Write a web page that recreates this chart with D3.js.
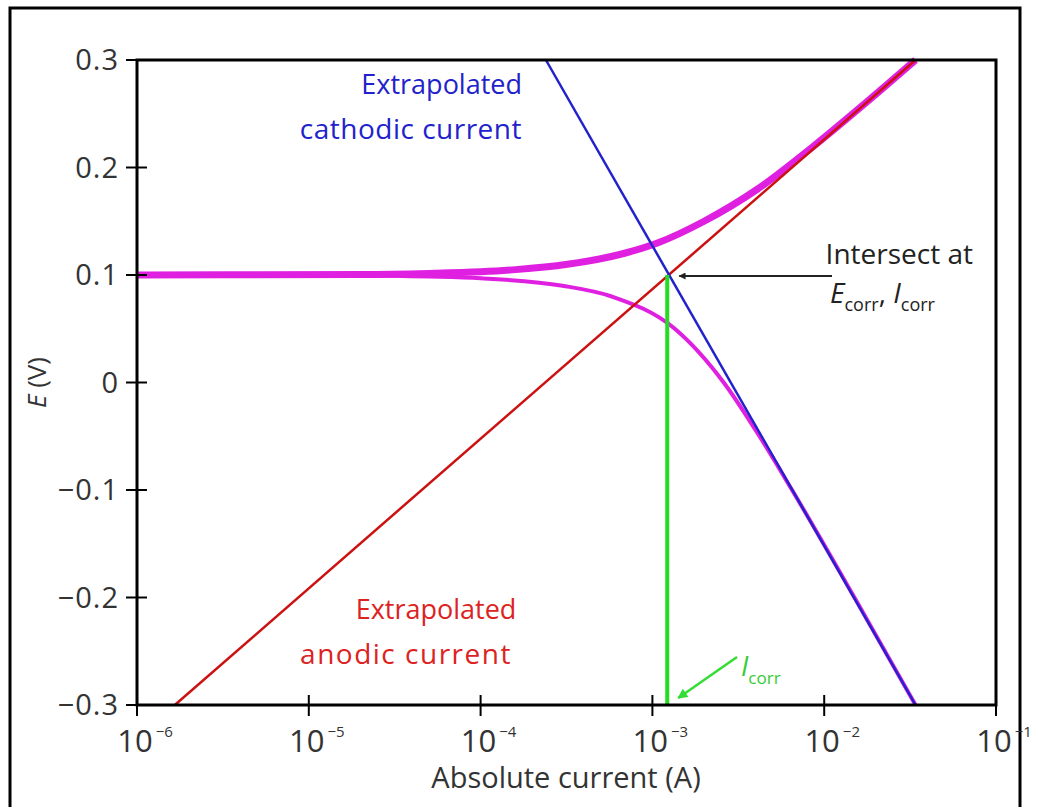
<!DOCTYPE html>
<html>
<head>
<meta charset="utf-8">
<script src="https://cdn.jsdelivr.net/npm/d3@7"></script>
<style>
  body { margin: 0; background: #fff; }
  svg text { font-family: "Open Sans", "Noto Sans", sans-serif; }
</style>
</head>
<body>
<div id="chart"></div>
<script>
// values: [current (A), E (V)]
var anodicLine = [[1.66e-6, -0.3], [3.4e-2, 0.3]];
var cathodicLine = [[2.4e-4, 0.3], [3.4e-2, -0.3]];
var upperBranch = [[1e-6, 0.1], [2e-5, 0.1005], [5e-5, 0.1015], [1e-4, 0.103], [1.6e-4, 0.105],
    [3.2e-4, 0.11], [6.8e-4, 0.12], [1.08e-3, 0.13], [2.0e-3, 0.15], [4.1e-3, 0.18],
    [8.7e-3, 0.22], [1.74e-2, 0.26], [3.4e-2, 0.3]];
var lowerBranch = [[1e-6, 0.1], [2e-5, 0.0995], [5e-5, 0.0985], [1e-4, 0.097], [3e-4, 0.09],
    [5.8e-4, 0.08], [1.35e-3, 0.05], [2.6e-3, 0.0], [4.2e-3, -0.05], [6.5e-3, -0.1],
    [1.5e-2, -0.2], [3.4e-2, -0.3]];
var iCorr = 1.22e-3;
var eCorr = 0.1;
var xTicks = [1e-6, 1e-5, 1e-4, 1e-3, 1e-2, 1e-1];
var xTickExp = ["−6", "−5", "−4", "−3", "−2", "−1"];
var yTicks = [0.3, 0.2, 0.1, 0, -0.1, -0.2, -0.3];
var yTickLabels = ["0.3", "0.2", "0.1", "0", "−0.1", "−0.2", "−0.3"];

var width = 1043, height = 807;
var plot = {left: 137, right: 996, top: 60, bottom: 705};

var svg = d3.select("#chart").append("svg")
    .attr("width", width)
    .attr("height", height);

//outer frame
svg.append("rect")
    .attr("x", 10).attr("y", 8)
    .attr("width", 1010).attr("height", 830)
    .attr("fill", "none")
    .attr("stroke", "#000")
    .attr("stroke-width", 3);

var x = d3.scaleLog().domain([1e-6, 1e-1]).range([plot.left, plot.right]);
var y = d3.scaleLinear().domain([-0.3, 0.3]).range([plot.bottom, plot.top]);

var line = d3.line().x(d => x(d[0])).y(d => y(d[1]));
var curve = d3.line().x(d => x(d[0])).y(d => y(d[1])).curve(d3.curveMonotoneX);

var g = svg.append("g");

//pink measured curve
g.append("path").datum(lowerBranch)
    .attr("d", curve).attr("fill", "none")
    .attr("stroke", "#e020e0").attr("stroke-width", 4);
g.append("path").datum(upperBranch)
    .attr("d", curve).attr("fill", "none")
    .attr("stroke", "#e020e0").attr("stroke-width", 7);

//extrapolated lines
g.append("path").datum(anodicLine)
    .attr("d", line).attr("fill", "none")
    .attr("stroke", "#cc1111").attr("stroke-width", 2.5);
g.append("path").datum(cathodicLine)
    .attr("d", line).attr("fill", "none")
    .attr("stroke", "#2222cc").attr("stroke-width", 2.5);

//Icorr vertical
g.append("line")
    .attr("x1", x(iCorr)).attr("x2", x(iCorr))
    .attr("y1", y(-0.3)).attr("y2", y(eCorr))
    .attr("stroke", "#22dd22").attr("stroke-width", 4);

//plot box
svg.append("rect")
    .attr("x", plot.left).attr("y", plot.top)
    .attr("width", plot.right - plot.left).attr("height", plot.bottom - plot.top)
    .attr("fill", "none").attr("stroke", "#000").attr("stroke-width", 3);

//y ticks
yTicks.forEach((t, i) => {
    svg.append("line")
        .attr("x1", plot.left - 11).attr("x2", plot.left + 10)
        .attr("y1", y(t)).attr("y2", y(t))
        .attr("stroke", "#000").attr("stroke-width", 2);
    svg.append("text")
        .attr("x", 119).attr("y", y(t) + 10)
        .attr("text-anchor", "end")
        .attr("font-size", 29)
        .attr("letter-spacing", 1)
        .attr("fill", "#333")
        .text(yTickLabels[i]);
});

//x ticks
xTicks.forEach((t, i) => {
    svg.append("line")
        .attr("x1", x(t)).attr("x2", x(t))
        .attr("y1", plot.bottom - 10).attr("y2", plot.bottom + 11)
        .attr("stroke", "#000").attr("stroke-width", 2);
    var label = svg.append("text")
        .attr("x", x(t) + 8).attr("y", 752)
        .attr("text-anchor", "middle")
        .attr("font-size", 31)
        .attr("fill", "#333");
    label.append("tspan").text("10");
    label.append("tspan").attr("font-size", 15).attr("dy", -15).attr("dx", 3).text(xTickExp[i]);
});

//axis titles
svg.append("text")
    .attr("x", 566).attr("y", 788)
    .attr("text-anchor", "middle")
    .attr("font-size", 29)
    .attr("fill", "#333")
    .text("Absolute current (A)");

var yTitle = svg.append("text")
    .attr("transform", "translate(46," + y(0) + ") rotate(-90)")
    .attr("text-anchor", "middle")
    .attr("font-size", 26)
    .attr("fill", "#333");
yTitle.append("tspan").attr("font-style", "italic").text("E");
yTitle.append("tspan").text(" (V)");

//annotations
svg.append("text").attr("x", 522).attr("y", 94)
    .attr("text-anchor", "end").attr("font-size", 27).attr("fill", "#2222cc")
    .text("Extrapolated");
svg.append("text").attr("x", 522).attr("y", 139)
    .attr("text-anchor", "end").attr("font-size", 28).attr("letter-spacing", 0.5).attr("fill", "#2222cc")
    .text("cathodic current");

svg.append("text").attr("x", 436).attr("y", 619)
    .attr("text-anchor", "middle").attr("font-size", 27).attr("fill", "#dd2222")
    .text("Extrapolated");
svg.append("text").attr("x", 406).attr("y", 664)
    .attr("text-anchor", "middle").attr("font-size", 28).attr("letter-spacing", 1.5).attr("fill", "#dd2222")
    .text("anodic current");

svg.append("text").attr("x", 973).attr("y", 264)
    .attr("text-anchor", "end").attr("font-size", 28).attr("fill", "#222")
    .text("Intersect at");
var ecorrText = svg.append("text").attr("x", 830).attr("y", 303)
    .attr("font-size", 28).attr("fill", "#222");
ecorrText.append("tspan").attr("font-style", "italic").text("E");
ecorrText.append("tspan").attr("font-size", 18).attr("dy", 8).text("corr");
ecorrText.append("tspan").attr("dy", -8).text(", ");
ecorrText.append("tspan").attr("font-style", "italic").text("I");
ecorrText.append("tspan").attr("font-size", 18).attr("dy", 8).text("corr");

//black arrow to intersection
var defs = svg.append("defs");
defs.append("marker").attr("id", "arrowBlack")
    .attr("viewBox", "0 0 10 10").attr("refX", 9).attr("refY", 5)
    .attr("markerWidth", 9).attr("markerHeight", 7).attr("orient", "auto")
    .attr("markerUnits", "userSpaceOnUse")
    .append("path").attr("d", "M0,0L10,5L0,10Z").attr("fill", "#222");
defs.append("marker").attr("id", "arrowGreen")
    .attr("viewBox", "0 0 10 10").attr("refX", 9).attr("refY", 5)
    .attr("markerWidth", 14).attr("markerHeight", 10).attr("orient", "auto")
    .attr("markerUnits", "userSpaceOnUse")
    .append("path").attr("d", "M0,0L10,5L0,10Z").attr("fill", "#33dd33");

svg.append("line")
    .attr("x1", 832).attr("y1", y(eCorr) + 1)
    .attr("x2", x(iCorr) + 12).attr("y2", y(eCorr) + 1)
    .attr("stroke", "#222").attr("stroke-width", 2)
    .attr("marker-end", "url(#arrowBlack)");

svg.append("line")
    .attr("x1", 737).attr("y1", 657)
    .attr("x2", x(iCorr) + 11).attr("y2", 698)
    .attr("stroke", "#33dd33").attr("stroke-width", 2.5)
    .attr("marker-end", "url(#arrowGreen)");

var icorrText = svg.append("text").attr("x", 741).attr("y", 676)
    .attr("font-size", 27).attr("fill", "#33cc33");
icorrText.append("tspan").attr("font-style", "italic").text("I");
icorrText.append("tspan").attr("font-size", 17).attr("dy", 8).text("corr");
</script>
</body>
</html>
